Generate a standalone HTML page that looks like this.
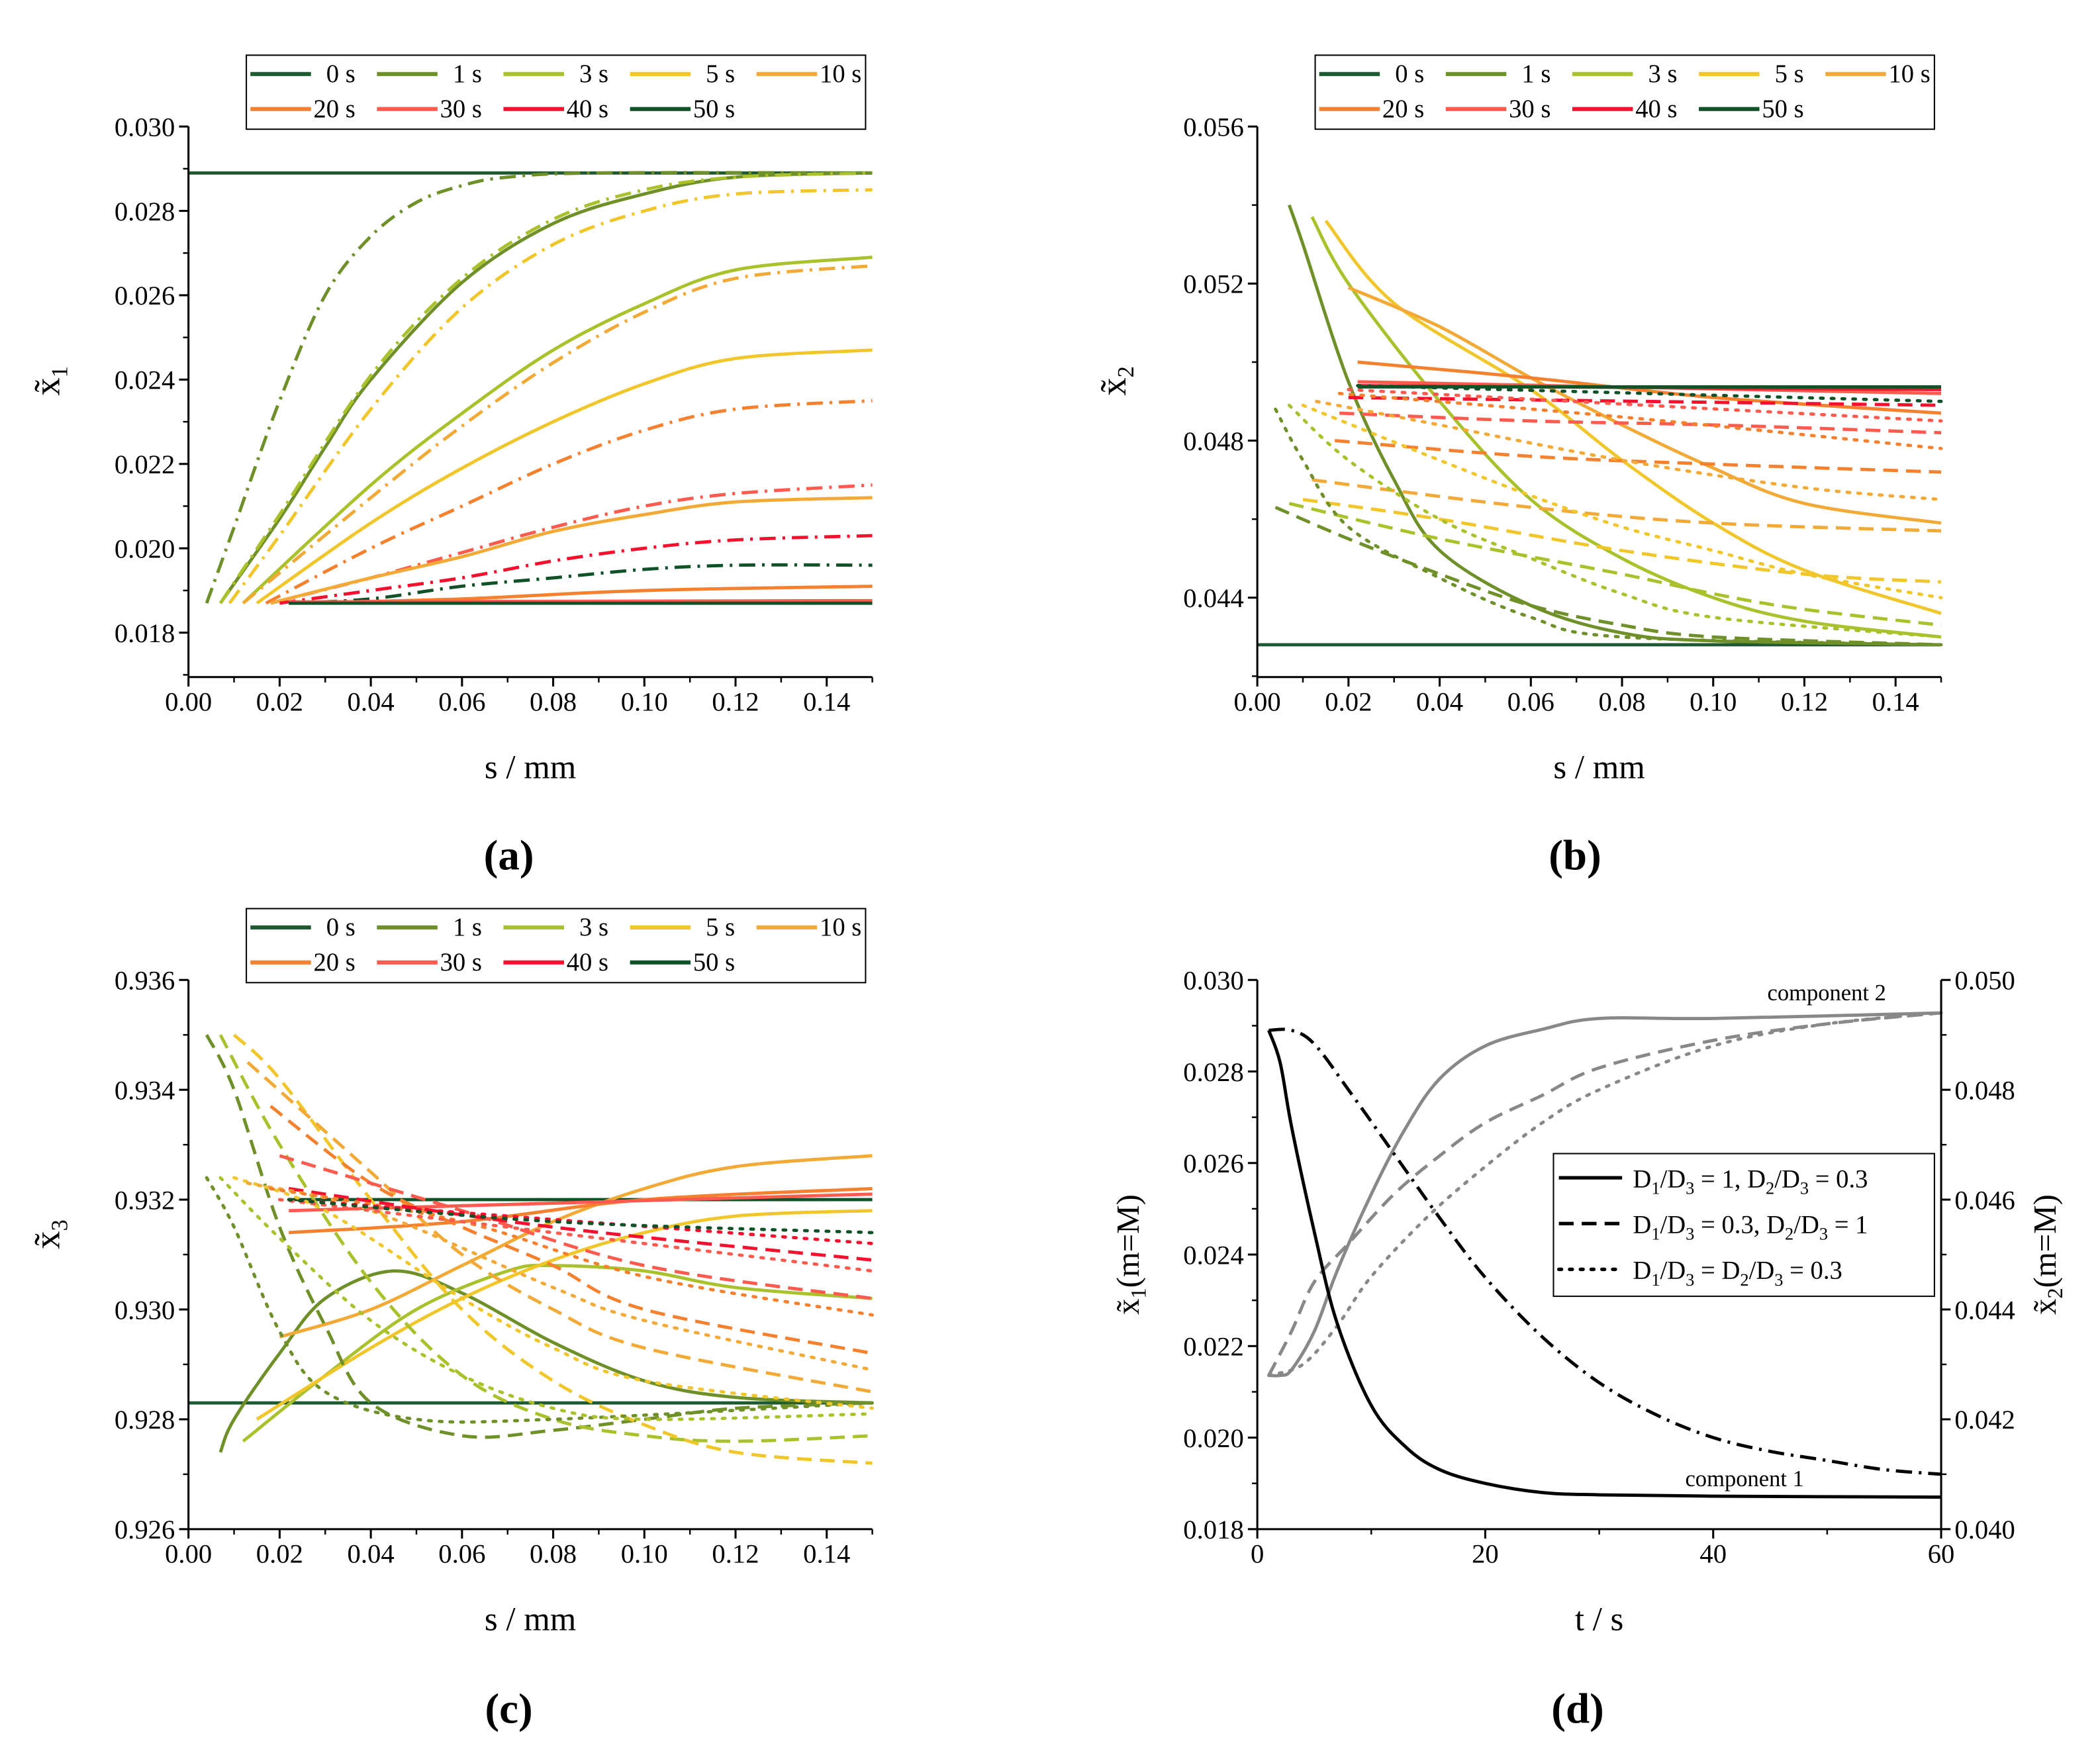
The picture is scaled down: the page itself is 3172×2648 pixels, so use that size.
<!DOCTYPE html>
<html><head><meta charset="utf-8"><style>
html,body{margin:0;padding:0;background:#fff;}
svg{display:block;}
text{font-family:"Liberation Serif",serif;fill:#000;}
</style></head><body>
<svg id="fig" width="3172" height="2648" viewBox="0 0 1560 1302.3" xmlns="http://www.w3.org/2000/svg"></svg>
<script>
// ---------- DATA ----------
const timeLabels = ["0 s","1 s","3 s","5 s","10 s","20 s","30 s","40 s","50 s"];
const timeColors = ["#1d5a30","#6f9028","#abc12c","#f0c62a","#f2a935","#f5802e","#ff5a4e","#f5102e","#0f5228"];

const seriesA = [
 [0,"s",[[0,0.0289],[0.15,0.0289]]],
 [1,"s",[[0.007,0.0187],[0.02,0.0207],[0.03,0.0224],[0.04,0.0240],[0.06,0.0263],[0.08,0.0277],[0.10,0.0284],[0.12,0.0288],[0.15,0.0289]]],
 [1,"dd",[[0.004,0.0187],[0.01,0.0205],[0.02,0.0235],[0.03,0.0260],[0.04,0.0274],[0.05,0.0282],[0.06,0.0286],[0.07,0.0288],[0.09,0.0289],[0.15,0.0289]]],
 [2,"dd",[[0.007,0.0187],[0.02,0.0208],[0.04,0.0241],[0.06,0.0264],[0.08,0.0278],[0.10,0.0285],[0.12,0.0288],[0.15,0.0289]]],
 [3,"dd",[[0.009,0.0187],[0.02,0.0203],[0.04,0.0233],[0.06,0.0257],[0.08,0.0272],[0.10,0.0280],[0.12,0.0284],[0.15,0.0285]]],
 [2,"s",[[0.012,0.0187],[0.04,0.0215],[0.06,0.0232],[0.08,0.0247],[0.10,0.0258],[0.12,0.0266],[0.15,0.0269]]],
 [4,"dd",[[0.012,0.0187],[0.04,0.0212],[0.06,0.0229],[0.08,0.0244],[0.10,0.0256],[0.12,0.0264],[0.15,0.0267]]],
 [3,"s",[[0.015,0.0187],[0.04,0.0206],[0.06,0.0219],[0.08,0.0230],[0.10,0.0239],[0.12,0.0245],[0.15,0.0247]]],
 [5,"dd",[[0.017,0.0187],[0.04,0.0200],[0.06,0.0210],[0.08,0.0220],[0.10,0.0228],[0.12,0.0233],[0.15,0.0235]]],
 [6,"dd",[[0.018,0.0187],[0.04,0.0193],[0.06,0.0199],[0.08,0.0205],[0.10,0.0210],[0.12,0.0213],[0.15,0.0215]]],
 [4,"s",[[0.018,0.0187],[0.04,0.0193],[0.06,0.0198],[0.08,0.0204],[0.10,0.0208],[0.12,0.0211],[0.15,0.0212]]],
 [7,"dd",[[0.02,0.0187],[0.04,0.0190],[0.06,0.0193],[0.08,0.0197],[0.10,0.0200],[0.12,0.0202],[0.15,0.0203]]],
 [8,"dd",[[0.022,0.0187],[0.04,0.0188],[0.06,0.0191],[0.08,0.0193],[0.10,0.0195],[0.12,0.0196],[0.15,0.0196]]],
 [5,"s",[[0.022,0.0187],[0.06,0.0188],[0.10,0.0190],[0.15,0.0191]]],
 [6,"s",[[0.022,0.01873],[0.15,0.01876]]],
 [8,"s",[[0.022,0.0187],[0.15,0.0187]]]
];

const seriesB = [
 [0,"s",[[0,0.0428],[0.15,0.0428]]],
 [1,"s",[[0.007,0.0540],[0.01,0.0530],[0.02,0.0495],[0.03,0.0470],[0.04,0.0452],[0.06,0.0438],[0.08,0.0431],[0.10,0.0429],[0.15,0.0428]]],
 [2,"s",[[0.012,0.0537],[0.02,0.0520],[0.04,0.0490],[0.06,0.0465],[0.08,0.0450],[0.10,0.0440],[0.12,0.0434],[0.15,0.0430]]],
 [3,"s",[[0.015,0.0536],[0.03,0.0515],[0.06,0.0493],[0.08,0.0475],[0.10,0.0459],[0.12,0.0447],[0.15,0.0436]]],
 [4,"s",[[0.02,0.0519],[0.04,0.0509],[0.06,0.0496],[0.08,0.0484],[0.10,0.0473],[0.12,0.0464],[0.15,0.0459]]],
 [5,"s",[[0.022,0.0500],[0.06,0.0496],[0.10,0.0491],[0.15,0.0487]]],
 [6,"s",[[0.022,0.0495],[0.15,0.0492]]],
 [7,"s",[[0.022,0.0494],[0.15,0.0493]]],
 [8,"s",[[0.022,0.04937],[0.15,0.04937]]],
 [1,"d",[[0.004,0.0463],[0.02,0.0455],[0.04,0.0446],[0.06,0.0438],[0.08,0.0433],[0.10,0.0430],[0.15,0.0428]]],
 [2,"d",[[0.007,0.0464],[0.04,0.0455],[0.08,0.0446],[0.10,0.0441],[0.12,0.0437],[0.15,0.0433]]],
 [3,"d",[[0.010,0.0465],[0.04,0.0460],[0.08,0.0452],[0.12,0.0446],[0.15,0.0444]]],
 [4,"d",[[0.012,0.0470],[0.06,0.0463],[0.10,0.0459],[0.15,0.0457]]],
 [5,"d",[[0.017,0.0480],[0.06,0.0476],[0.10,0.0474],[0.15,0.0472]]],
 [6,"d",[[0.018,0.0487],[0.06,0.0485],[0.10,0.0484],[0.15,0.0482]]],
 [7,"d",[[0.020,0.0491],[0.15,0.0489]]],
 [1,"o",[[0.004,0.0488],[0.01,0.0475],[0.02,0.0458],[0.04,0.0445],[0.06,0.0435],[0.08,0.0430],[0.15,0.0428]]],
 [2,"o",[[0.007,0.0489],[0.02,0.0475],[0.04,0.0460],[0.06,0.0450],[0.08,0.0441],[0.10,0.0435],[0.15,0.0430]]],
 [3,"o",[[0.010,0.0489],[0.04,0.0475],[0.06,0.0466],[0.08,0.0458],[0.10,0.0452],[0.12,0.0446],[0.15,0.0440]]],
 [4,"o",[[0.013,0.0490],[0.04,0.0484],[0.08,0.0475],[0.12,0.0468],[0.15,0.0465]]],
 [5,"o",[[0.018,0.0492],[0.08,0.0486],[0.15,0.0478]]],
 [6,"o",[[0.020,0.0493],[0.15,0.0485]]],
 [8,"o",[[0.022,0.0494],[0.15,0.0490]]]
];

const seriesC = [
 [0,"s",[[0,0.9283],[0.15,0.9283]]],
 [8,"s",[[0.022,0.9320],[0.15,0.9320]]],
 [1,"s",[[0.007,0.9274],[0.01,0.9280],[0.02,0.9292],[0.03,0.9302],[0.045,0.9307],[0.06,0.9303],[0.08,0.9294],[0.10,0.9287],[0.12,0.9284],[0.15,0.9283]]],
 [2,"s",[[0.012,0.9276],[0.03,0.9288],[0.05,0.9300],[0.07,0.9307],[0.08,0.9308],[0.10,0.9307],[0.12,0.9304],[0.15,0.9302]]],
 [3,"s",[[0.015,0.9280],[0.04,0.9293],[0.06,0.9302],[0.08,0.9309],[0.10,0.9314],[0.12,0.9317],[0.15,0.9318]]],
 [4,"s",[[0.020,0.9295],[0.04,0.9300],[0.06,0.9308],[0.08,0.9316],[0.10,0.9322],[0.12,0.9326],[0.15,0.9328]]],
 [5,"s",[[0.022,0.9314],[0.06,0.9316],[0.10,0.9320],[0.15,0.9322]]],
 [6,"s",[[0.022,0.9318],[0.15,0.9321]]],
 [1,"d",[[0.004,0.9350],[0.01,0.9340],[0.02,0.9315],[0.03,0.9297],[0.04,0.9283],[0.06,0.9277],[0.08,0.9278],[0.10,0.9280],[0.12,0.9282],[0.15,0.9283]]],
 [2,"d",[[0.007,0.9350],[0.02,0.9330],[0.04,0.9305],[0.06,0.9288],[0.08,0.9280],[0.10,0.9277],[0.12,0.9276],[0.15,0.9277]]],
 [3,"d",[[0.010,0.9350],[0.02,0.9342],[0.04,0.9320],[0.06,0.9300],[0.08,0.9287],[0.10,0.9279],[0.12,0.9274],[0.15,0.9272]]],
 [4,"d",[[0.013,0.9345],[0.04,0.9325],[0.06,0.9310],[0.08,0.9300],[0.10,0.9293],[0.15,0.9285]]],
 [5,"d",[[0.018,0.9337],[0.04,0.9323],[0.06,0.9315],[0.08,0.9308],[0.10,0.9300],[0.15,0.9292]]],
 [6,"d",[[0.020,0.9328],[0.06,0.9318],[0.10,0.9308],[0.15,0.9302]]],
 [7,"d",[[0.022,0.9322],[0.08,0.9315],[0.15,0.9309]]],
 [1,"o",[[0.004,0.9324],[0.01,0.9315],[0.02,0.9296],[0.03,0.9285],[0.05,0.9280],[0.08,0.9280],[0.15,0.9283]]],
 [2,"o",[[0.007,0.9324],[0.02,0.9313],[0.04,0.9298],[0.06,0.9288],[0.08,0.9282],[0.10,0.9280],[0.15,0.9281]]],
 [3,"o",[[0.010,0.9324],[0.03,0.9318],[0.06,0.9302],[0.08,0.9293],[0.10,0.9287],[0.15,0.9282]]],
 [4,"o",[[0.013,0.9323],[0.04,0.9318],[0.08,0.9304],[0.10,0.9298],[0.15,0.9289]]],
 [5,"o",[[0.018,0.9322],[0.06,0.9316],[0.10,0.9306],[0.15,0.9299]]],
 [6,"o",[[0.020,0.9320],[0.08,0.9314],[0.15,0.9307]]],
 [7,"o",[[0.022,0.9320],[0.15,0.9312]]],
 [8,"o",[[0.022,0.9320],[0.08,0.9316],[0.15,0.9314]]]
];

const dComp1Solid = [[1,0.0289],[2,0.0282],[3,0.0268],[5,0.0245],[7,0.0225],[10,0.0207],[13,0.0198],[16,0.0193],[20,0.0190],[25,0.0188],[30,0.01875],[40,0.01872],[60,0.0187]];
const dComp1Dash = [[1,0.0289],[3,0.0289],[5,0.0286],[8,0.0276],[12,0.0262],[16,0.0248],[20,0.0235],[25,0.0222],[30,0.0212],[35,0.0205],[40,0.0200],[45,0.0197],[50,0.0195],[55,0.0193],[60,0.0192]];
const dComp2Solid = [[1,0.0428],[2,0.0428],[3,0.0429],[5,0.0436],[7,0.0447],[10,0.0461],[13,0.0473],[16,0.0482],[20,0.0488],[25,0.0491],[30,0.0493],[40,0.0493],[60,0.0494]];
const dComp2Dash = [[1,0.0428],[3,0.0436],[5,0.0445],[8,0.0452],[12,0.0461],[16,0.0468],[20,0.0474],[25,0.0479],[30,0.0484],[40,0.0489],[50,0.0492],[60,0.0494]];
const dComp2Dot = [[1,0.0428],[4,0.0430],[7,0.0437],[10,0.0446],[15,0.0457],[20,0.0466],[25,0.0474],[30,0.0480],[40,0.0488],[50,0.0492],[60,0.0494]];

const sTicks = ["0.00","0.02","0.04","0.06","0.08","0.10","0.12","0.14"];
const aTicks = ["0.018","0.020","0.022","0.024","0.026","0.028","0.030"];
const bTicks = ["0.044","0.048","0.052","0.056"];
const cTicks = ["0.926","0.928","0.930","0.932","0.934","0.936"];
const dXTicks = ["0","20","40","60"];
const dLTicks = ["0.018","0.020","0.022","0.024","0.026","0.028","0.030"];
const dRTicks = ["0.040","0.042","0.044","0.046","0.048","0.050"];

// ---------- DRAW ----------
const NS="http://www.w3.org/2000/svg";
const svg=document.getElementById('fig');
function el(tag,attrs,parent){const e=document.createElementNS(NS,tag);for(const k in attrs)e.setAttribute(k,attrs[k]);(parent||svg).appendChild(e);return e;}
function txt(x,y,s,size,anchor,parent){const t=el('text',{x:x,y:y,'font-size':size,'text-anchor':anchor||'middle'},parent);t.textContent=s;return t;}
function lin(d0,d1,r0,r1){return v=>r0+(v-d0)/(d1-d0)*(r1-r0);}
function pathD(pts,X,Y){
  const p=pts.map(q=>[X(q[0]),Y(q[1])]);
  if(p.length<3)return 'M'+p.map(q=>q[0].toFixed(1)+','+q[1].toFixed(1)).join('L');
  let d='M'+p[0][0].toFixed(1)+','+p[0][1].toFixed(1);
  for(let i=0;i<p.length-1;i++){
    const p0=p[Math.max(0,i-1)],p1=p[i],p2=p[i+1],p3=p[Math.min(p.length-1,i+2)];
    const c1=[p1[0]+(p2[0]-p0[0])/6,p1[1]+(p2[1]-p0[1])/6];
    const c2=[p2[0]-(p3[0]-p1[0])/6,p2[1]-(p3[1]-p1[1])/6];
    d+='C'+c1[0].toFixed(1)+','+c1[1].toFixed(1)+' '+c2[0].toFixed(1)+','+c2[1].toFixed(1)+' '+p2[0].toFixed(1)+','+p2[1].toFixed(1);
  }
  return d;
}
const dashMap={s:null,d:"11,6",o:"2,6",dd:"12,5,2,5"};
function drawSeries(g,pts,X,Y,color,style,name){
  const a={d:pathD(pts,X,Y),fill:'none',stroke:color,'stroke-width':2.4,'stroke-linecap':style==='o'?'round':'butt'};
  if(dashMap[style])a['stroke-dasharray']=dashMap[style];
  const p=el('path',a,g);
  
  
}
function axes(g,x0,x1,yT,yB){
  el('line',{x1:x0,y1:yT,x2:x0,y2:yB,stroke:'#000','stroke-width':1.5},g);
  el('line',{x1:x0,y1:yB,x2:x1,y2:yB,stroke:'#000','stroke-width':1.5},g);
}
function xTicks(g,labels,vals,minor,X,yB){
  labels.forEach((l,i)=>{const x=X(vals[i]);el('line',{x1:x,y1:yB,x2:x,y2:yB+7,stroke:'#000','stroke-width':1.5},g);
    const t=txt(x,yB+25,l,20,'middle',g);});
  minor.forEach(v=>{const x=X(v);el('line',{x1:x,y1:yB,x2:x,y2:yB+4,stroke:'#000','stroke-width':1.2},g);});
}
function yTicks(g,labels,vals,minor,Y,x0,dir){
  labels.forEach((l,i)=>{const y=Y(vals[i]);el('line',{x1:x0,y1:y,x2:x0-7*dir,y2:y,stroke:'#000','stroke-width':1.5},g);
    const t=txt(x0-10*dir,y+7,l,20,dir>0?'end':'start',g);});
  minor.forEach(v=>{const y=Y(v);el('line',{x1:x0,y1:y,x2:x0-4*dir,y2:y,stroke:'#000','stroke-width':1.2},g);});
}
function yTitle(g,x,y,sub){
  const t=el('text',{transform:`translate(${x},${y}) rotate(-90)`,'font-size':27,'text-anchor':'middle','font-family':'"Liberation Sans",sans-serif'},g);
  t.textContent='x\u0303';
  const s=el('tspan',{'font-size':17,dy:6},t);s.textContent=sub;
  
}
function timeLegend(g,x,y,w,h){
  const r=el('rect',{x:x,y:y,width:w,height:h,fill:'#fff',stroke:'#000','stroke-width':1},g);
  
  timeLabels.forEach((l,i)=>{
    const row=i<5?0:1,col=i<5?i:i-5;
    const lx=x+3+col*94, ly=y+14+row*26;
    const e=el('g',{},g);
    
    
    el('line',{x1:lx,y1:ly,x2:lx+45,y2:ly,stroke:timeColors[i],'stroke-width':3},e);
    txt(lx+78,ly+6,l,19,'end',e);
  });
}
function sVals(){return sTicks.map(t=>parseFloat(t));}
function sMinor(){const m=[];for(let i=1;i<15;i+=2)m.push(i/100);m.push(0.15);return m;}

// panel a
(function(){
  const g=el('g',{});
  const X=lin(0,0.15,140,648),Y=lin(0.018,0.030,470,94);
  seriesA.forEach(s=>drawSeries(g,s[2],X,Y,timeColors[s[0]],s[1],'curve-a-'+timeLabels[s[0]].replace(' ','')));
  axes(g,140,648,94,503);
  xTicks(g,sTicks,sVals(),sMinor(),X,503);
  const am=[];for(let i=0;i<6;i++)am.push(0.019+i*0.002);am.push(0.017);
  yTicks(g,aTicks,aTicks.map(parseFloat),am,Y,140,1);
  yTitle(g,44,283,'1');
  const t=txt(394,578,'s / mm',25,'middle',g);
  const c=txt(378,646,'(a)',32,'middle',g);c.setAttribute('font-weight','bold');
  timeLegend(g,183,41,460,55);
})();
// panel b
(function(){
  const g=el('g',{});
  const X=lin(0,0.15,934,1442),Y=lin(0.044,0.056,444,94);
  seriesB.forEach(s=>drawSeries(g,s[2],X,Y,timeColors[s[0]],s[1],'curve-b-'+timeLabels[s[0]].replace(' ','')));
  axes(g,934,1442,94,503);
  xTicks(g,sTicks,sVals(),sMinor(),X,503);
  yTicks(g,bTicks,bTicks.map(parseFloat),[0.042,0.046,0.050,0.054],Y,934,1);
  yTitle(g,836,283,'2');
  const t=txt(1188,578,'s / mm',25,'middle',g);
  const c=txt(1170,646,'(b)',32,'middle',g);c.setAttribute('font-weight','bold');
  timeLegend(g,977,41,460,55);
})();
// panel c
(function(){
  const g=el('g',{});
  const X=lin(0,0.15,140,648),Y=lin(0.926,0.936,1136,728);
  seriesC.forEach(s=>drawSeries(g,s[2],X,Y,timeColors[s[0]],s[1],'curve-c-'+timeLabels[s[0]].replace(' ','')));
  axes(g,140,648,728,1136);
  xTicks(g,sTicks,sVals(),sMinor(),X,1136);
  yTicks(g,cTicks,cTicks.map(parseFloat),[0.927,0.929,0.931,0.933,0.935],Y,140,1);
  yTitle(g,44,917,'3');
  const t=txt(394,1211,'s / mm',25,'middle',g);
  const c=txt(378,1280,'(c)',32,'middle',g);c.setAttribute('font-weight','bold');
  timeLegend(g,183,675,460,55);
})();
// panel d
(function(){
  const g=el('g',{});
  const X=lin(0,60,934,1442),YL=lin(0.018,0.030,1136,728),YR=lin(0.040,0.050,1136,728);
  drawSeries(g,dComp2Solid,X,YR,'#888','s','component2-solid');
  drawSeries(g,dComp2Dash,X,YR,'#888','d','component2-dashed');
  drawSeries(g,dComp2Dot,X,YR,'#888','o','component2-dotted');
  drawSeries(g,dComp1Solid,X,YL,'#000','s','component1-solid');
  drawSeries(g,dComp1Dash,X,YL,'#000','dd','component1-dashed');
  axes(g,934,1442,728,1136);
  el('line',{x1:1442,y1:728,x2:1442,y2:1136,stroke:'#000','stroke-width':1.5},g);
  xTicks(g,dXTicks,dXTicks.map(parseFloat),[10,30,50],X,1136);
  yTicks(g,dLTicks,dLTicks.map(parseFloat),[0.019,0.021,0.023,0.025,0.027,0.029],YL,934,1);
  yTicks(g,dRTicks,dRTicks.map(parseFloat),[0.041,0.043,0.045,0.047,0.049],YR,1442,-1);
  const lt=el('text',{transform:'translate(846,932) rotate(-90)','font-size':24,'text-anchor':'middle'},g);
  lt.textContent='x\u0303';let s=el('tspan',{'font-size':16,dy:5},lt);s.textContent='1';s=el('tspan',{dy:-5},lt);s.textContent='(m=M)';
  
  const rt=el('text',{transform:'translate(1527,932) rotate(-90)','font-size':24,'text-anchor':'middle'},g);
  rt.textContent='x\u0303';s=el('tspan',{'font-size':16,dy:5},rt);s.textContent='2';s=el('tspan',{dy:-5},rt);s.textContent='(m=M)';
  
  let t=txt(1188,1211,'t / s',25,'middle',g);
  t=txt(1172,1280,'(d)',32,'middle',g);t.setAttribute('font-weight','bold');
  t=txt(1357,743,'component 2',17,'middle',g);
  t=txt(1296,1104,'component 1',17,'middle',g);
  const lg=el('g',{},g);
  el('rect',{x:1154,y:857,width:283,height:106,fill:'#fff',stroke:'#000','stroke-width':1},lg);
  const ent=[
    ['s',[['D',0],['1',1],['/D',0],['3',1],[' = 1, D',0],['2',1],['/D',0],['3',1],[' = 0.3',0]]],
    ['d',[['D',0],['1',1],['/D',0],['3',1],[' = 0.3, D',0],['2',1],['/D',0],['3',1],[' = 1',0]]],
    ['o',[['D',0],['1',1],['/D',0],['3',1],[' = D',0],['2',1],['/D',0],['3',1],[' = 0.3',0]]]
  ];
  ent.forEach((e,i)=>{
    const y=875+i*34;
    const eg=el('g',{},lg);
    
    
    const a={x1:1158,y1:y,x2:1205,y2:y,stroke:'#000','stroke-width':2.6,'stroke-linecap':e[0]==='o'?'round':'butt'};
    if(dashMap[e[0]])a['stroke-dasharray']=dashMap[e[0]];
    el('line',a,eg);
    const tt=el('text',{x:1213,y:y+7,'font-size':19},eg);
    let sub=false;
    e[1].forEach(p=>{const ts=el('tspan',{},tt);
      if(p[1]&&!sub){ts.setAttribute('dy',5);ts.setAttribute('font-size',13);sub=true;}
      else if(p[1]&&sub){ts.setAttribute('font-size',13);}
      else if(!p[1]&&sub){ts.setAttribute('dy',-5);sub=false;}
      ts.textContent=p[0];});
  });
})();
</script>
</body></html>
